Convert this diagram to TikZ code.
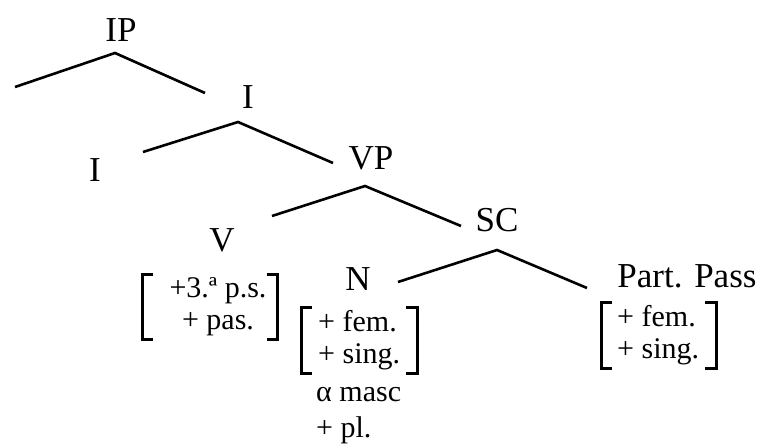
\documentclass[tikz,border=0pt]{standalone}
\usepackage{fontspec}
\setmainfont{Liberation Serif}
\usetikzlibrary{calc}

% square brackets round a feature node: node, left gap, right gap
\newcommand{\featbrackets}[3]{%
  \draw[brk] ($(#1.north west)+(-#2+11,-3)$) -- ++(-11,0) |- ($(#1.south west)+(-#2+11,3)$);
  \draw[brk] ($(#1.north east)+(#3-11,-3)$) -- ++(11,0) |- ($(#1.south east)+(#3-11,3)$);
}

\begin{document}
\begin{tikzpicture}[x=1pt, y=-1pt,
    cat/.style={font=\rmfamily\fontsize{35}{40}\selectfont, inner sep=0pt},
    feat/.style={font=\rmfamily\fontsize{30}{32}\selectfont, inner sep=0pt},
    branch/.style={line width=2.6pt},
    brk/.style={line width=3pt}]
    \useasboundingbox (0,0) rectangle (762,446);

    % category labels
    \node[cat] (ip) at (121,30) {IP};
    \node[cat] (ibar) at (248,97) {I};
    \node[cat] (infl) at (95,170) {I};
    \node[cat] (vp) at (371,158) {VP};
    \node[cat] (verb) at (222,240) {V};
    \node[cat] (sc) at (497,220) {SC};
    \node[cat] (noun) at (358,279) {N};
    \node[cat] (part) at (687,276) {Part. Pass};

    % feature matrices
    \node[feat, align=center] (fverb) at (218,307) {+3.ª p.s.\\+ pas.};
    \node[feat, align=left, anchor=west] (fnoun) at (318,340) {+ fem.\\+ sing.};
    \node[feat, align=left, anchor=west] (fpart) at (617,335) {+ fem.\\+ sing.};
    \node[feat, align=left, anchor=west, font=\rmfamily\fontsize{30}{36}\selectfont] (fext) at (316,416) {α masc\\+ pl.};

    \featbrackets{fverb}{27}{11}
    \featbrackets{fnoun}{17}{17}
    \featbrackets{fpart}{16}{17}

    % branch points and ends
    \coordinate (ip-top) at (115,53);
    \coordinate (spec) at (15,87);
    \coordinate (to-ibar) at (205,93);
    \coordinate (ibar-top) at (238,122);
    \coordinate (to-infl) at (143,152);
    \coordinate (to-vp) at (333,163);
    \coordinate (vp-top) at (365,186);
    \coordinate (to-verb) at (272,216);
    \coordinate (to-sc) at (461,226);
    \coordinate (sc-top) at (497,250);
    \coordinate (to-noun) at (398,282);
    \coordinate (to-part) at (587,288);

    \draw[branch] (spec) -- (ip-top) -- (to-ibar);
    \draw[branch] (to-infl) -- (ibar-top) -- (to-vp);
    \draw[branch] (to-verb) -- (vp-top) -- (to-sc);
    \draw[branch] (to-noun) -- (sc-top) -- (to-part);
\end{tikzpicture}
\end{document}
